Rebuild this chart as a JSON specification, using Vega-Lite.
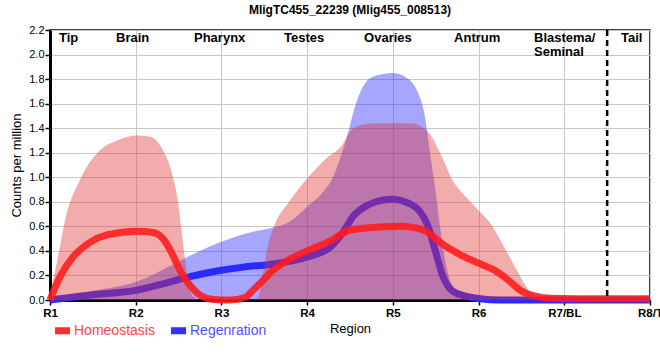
{
  "$schema": "https://vega.github.io/schema/vega-lite/v6.json",
  "width": 600,
  "height": 270,
  "autosize": {"type": "none"},
  "padding": {"left": 50, "top": 30, "right": 10, "bottom": 60},
  "background": "white",
  "title": {"text": "MligTC455_22239 (Mlig455_008513)", "font": "Liberation Sans", "fontSize": 12, "fontWeight": "bold", "color": "black", "offset": 7, "anchor": "middle"},
  "config": {"view": {"stroke": "black", "strokeWidth": 1.5}, "font": "Liberation Sans",
    "axisY": {"values": [0, 0.2, 0.4, 0.6, 0.8, 1.0, 1.2, 1.4, 1.6, 1.8, 2.0, 2.2], "format": ".1f",
        "titleFont": "Liberation Sans", "titleFontSize": 13, "titleFontWeight": "normal", "titleColor": "black", "titlePadding": 5,
        "labelFont": "Liberation Sans", "labelFontSize": 11, "labelColor": "black", "labelPadding": 1, "labelFlush": false, "labelOverlap": false,
        "domainColor": "black", "domainWidth": 3, "tickColor": "black", "tickSize": 5, "tickWidth": 1.5,
        "grid": true, "gridColor": "#c8c8c8", "gridWidth": 1}},
  "datasets": {
    "curves": [
      {"s": "Regenration", "k": "range", "x": 1.0, "v": 0},
      {"s": "Regenration", "k": "range", "x": 1.467, "v": 0.07},
      {"s": "Regenration", "k": "range", "x": 2.015, "v": 0.15},
      {"s": "Regenration", "k": "range", "x": 2.435, "v": 0.29},
      {"s": "Regenration", "k": "range", "x": 2.715, "v": 0.39},
      {"s": "Regenration", "k": "range", "x": 2.983, "v": 0.47},
      {"s": "Regenration", "k": "range", "x": 3.333, "v": 0.55},
      {"s": "Regenration", "k": "range", "x": 3.602, "v": 0.59},
      {"s": "Regenration", "k": "range", "x": 3.8, "v": 0.64},
      {"s": "Regenration", "k": "range", "x": 4.0, "v": 0.76},
      {"s": "Regenration", "k": "range", "x": 4.185, "v": 0.88},
      {"s": "Regenration", "k": "range", "x": 4.302, "v": 1.0},
      {"s": "Regenration", "k": "range", "x": 4.407, "v": 1.2},
      {"s": "Regenration", "k": "range", "x": 4.477, "v": 1.36},
      {"s": "Regenration", "k": "range", "x": 4.535, "v": 1.52},
      {"s": "Regenration", "k": "range", "x": 4.652, "v": 1.74},
      {"s": "Regenration", "k": "range", "x": 4.768, "v": 1.82},
      {"s": "Regenration", "k": "range", "x": 5.0, "v": 1.85},
      {"s": "Regenration", "k": "range", "x": 5.14, "v": 1.82},
      {"s": "Regenration", "k": "range", "x": 5.28, "v": 1.71},
      {"s": "Regenration", "k": "range", "x": 5.373, "v": 1.5},
      {"s": "Regenration", "k": "range", "x": 5.433, "v": 1.2},
      {"s": "Regenration", "k": "range", "x": 5.492, "v": 0.92},
      {"s": "Regenration", "k": "range", "x": 5.55, "v": 0.6},
      {"s": "Regenration", "k": "range", "x": 5.608, "v": 0.33},
      {"s": "Regenration", "k": "range", "x": 5.702, "v": 0.11},
      {"s": "Regenration", "k": "range", "x": 5.865, "v": 0.03},
      {"s": "Regenration", "k": "range", "x": 6.017, "v": 0.01},
      {"s": "Regenration", "k": "range", "x": 6.25, "v": 0.0},
      {"s": "Regenration", "k": "range", "x": 8.0, "v": 0.0},

      {"s": "Regenration", "k": "mean", "x": 1.0, "v": 0.0},
      {"s": "Regenration", "k": "mean", "x": 1.467, "v": 0.04},
      {"s": "Regenration", "k": "mean", "x": 2.015, "v": 0.08},
      {"s": "Regenration", "k": "mean", "x": 2.365, "v": 0.14},
      {"s": "Regenration", "k": "mean", "x": 2.633, "v": 0.19},
      {"s": "Regenration", "k": "mean", "x": 2.983, "v": 0.24},
      {"s": "Regenration", "k": "mean", "x": 3.275, "v": 0.27},
      {"s": "Regenration", "k": "mean", "x": 3.567, "v": 0.29},
      {"s": "Regenration", "k": "mean", "x": 4.0, "v": 0.35},
      {"s": "Regenration", "k": "mean", "x": 4.267, "v": 0.43},
      {"s": "Regenration", "k": "mean", "x": 4.418, "v": 0.55},
      {"s": "Regenration", "k": "mean", "x": 4.535, "v": 0.68},
      {"s": "Regenration", "k": "mean", "x": 4.698, "v": 0.77},
      {"s": "Regenration", "k": "mean", "x": 4.85, "v": 0.81},
      {"s": "Regenration", "k": "mean", "x": 5.0, "v": 0.82},
      {"s": "Regenration", "k": "mean", "x": 5.14, "v": 0.8},
      {"s": "Regenration", "k": "mean", "x": 5.317, "v": 0.72},
      {"s": "Regenration", "k": "mean", "x": 5.41, "v": 0.6},
      {"s": "Regenration", "k": "mean", "x": 5.492, "v": 0.41},
      {"s": "Regenration", "k": "mean", "x": 5.585, "v": 0.19},
      {"s": "Regenration", "k": "mean", "x": 5.702, "v": 0.07},
      {"s": "Regenration", "k": "mean", "x": 5.865, "v": 0.03},
      {"s": "Regenration", "k": "mean", "x": 6.017, "v": 0.01},
      {"s": "Regenration", "k": "mean", "x": 6.25, "v": 0.0},
      {"s": "Regenration", "k": "mean", "x": 8.0, "v": 0.0},

      {"s": "Homeostasis", "k": "range", "x": 1.0, "v": 0},
      {"s": "Homeostasis", "k": "range", "x": 1.035, "v": 0.15},
      {"s": "Homeostasis", "k": "range", "x": 1.093, "v": 0.35},
      {"s": "Homeostasis", "k": "range", "x": 1.175, "v": 0.65},
      {"s": "Homeostasis", "k": "range", "x": 1.35, "v": 0.98},
      {"s": "Homeostasis", "k": "range", "x": 1.583, "v": 1.22},
      {"s": "Homeostasis", "k": "range", "x": 1.782, "v": 1.3},
      {"s": "Homeostasis", "k": "range", "x": 2.015, "v": 1.34},
      {"s": "Homeostasis", "k": "range", "x": 2.167, "v": 1.33},
      {"s": "Homeostasis", "k": "range", "x": 2.318, "v": 1.22},
      {"s": "Homeostasis", "k": "range", "x": 2.435, "v": 1.0},
      {"s": "Homeostasis", "k": "range", "x": 2.493, "v": 0.8},
      {"s": "Homeostasis", "k": "range", "x": 2.528, "v": 0.6},
      {"s": "Homeostasis", "k": "range", "x": 2.563, "v": 0.4},
      {"s": "Homeostasis", "k": "range", "x": 2.61, "v": 0.16},
      {"s": "Homeostasis", "k": "range", "x": 2.668, "v": 0.03},
      {"s": "Homeostasis", "k": "range", "x": 2.75, "v": 0.0},
      {"s": "Homeostasis", "k": "range", "x": 3.333, "v": 0.0},
      {"s": "Homeostasis", "k": "range", "x": 3.427, "v": 0.02},
      {"s": "Homeostasis", "k": "range", "x": 3.485, "v": 0.22},
      {"s": "Homeostasis", "k": "range", "x": 3.543, "v": 0.45},
      {"s": "Homeostasis", "k": "range", "x": 3.602, "v": 0.58},
      {"s": "Homeostasis", "k": "range", "x": 3.8, "v": 0.81},
      {"s": "Homeostasis", "k": "range", "x": 4.0, "v": 0.99},
      {"s": "Homeostasis", "k": "range", "x": 4.232, "v": 1.16},
      {"s": "Homeostasis", "k": "range", "x": 4.407, "v": 1.26},
      {"s": "Homeostasis", "k": "range", "x": 4.5, "v": 1.37},
      {"s": "Homeostasis", "k": "range", "x": 4.652, "v": 1.43},
      {"s": "Homeostasis", "k": "range", "x": 4.85, "v": 1.44},
      {"s": "Homeostasis", "k": "range", "x": 5.2, "v": 1.44},
      {"s": "Homeostasis", "k": "range", "x": 5.317, "v": 1.42},
      {"s": "Homeostasis", "k": "range", "x": 5.433, "v": 1.35},
      {"s": "Homeostasis", "k": "range", "x": 5.55, "v": 1.2},
      {"s": "Homeostasis", "k": "range", "x": 5.702, "v": 0.97},
      {"s": "Homeostasis", "k": "range", "x": 5.865, "v": 0.83},
      {"s": "Homeostasis", "k": "range", "x": 6.0, "v": 0.73},
      {"s": "Homeostasis", "k": "range", "x": 6.133, "v": 0.63},
      {"s": "Homeostasis", "k": "range", "x": 6.285, "v": 0.45},
      {"s": "Homeostasis", "k": "range", "x": 6.448, "v": 0.24},
      {"s": "Homeostasis", "k": "range", "x": 6.565, "v": 0.1},
      {"s": "Homeostasis", "k": "range", "x": 6.682, "v": 0.03},
      {"s": "Homeostasis", "k": "range", "x": 6.833, "v": 0.015},
      {"s": "Homeostasis", "k": "range", "x": 8.0, "v": 0.01},

      {"s": "Homeostasis", "k": "mean", "x": 1.0, "v": 0.0},
      {"s": "Homeostasis", "k": "mean", "x": 1.117, "v": 0.19},
      {"s": "Homeostasis", "k": "mean", "x": 1.268, "v": 0.35},
      {"s": "Homeostasis", "k": "mean", "x": 1.467, "v": 0.47},
      {"s": "Homeostasis", "k": "mean", "x": 1.665, "v": 0.53},
      {"s": "Homeostasis", "k": "mean", "x": 2.015, "v": 0.56},
      {"s": "Homeostasis", "k": "mean", "x": 2.202, "v": 0.55},
      {"s": "Homeostasis", "k": "mean", "x": 2.318, "v": 0.5},
      {"s": "Homeostasis", "k": "mean", "x": 2.423, "v": 0.38},
      {"s": "Homeostasis", "k": "mean", "x": 2.517, "v": 0.24},
      {"s": "Homeostasis", "k": "mean", "x": 2.633, "v": 0.12},
      {"s": "Homeostasis", "k": "mean", "x": 2.75, "v": 0.04},
      {"s": "Homeostasis", "k": "mean", "x": 2.902, "v": 0.005},
      {"s": "Homeostasis", "k": "mean", "x": 3.1, "v": 0.0},
      {"s": "Homeostasis", "k": "mean", "x": 3.275, "v": 0.02},
      {"s": "Homeostasis", "k": "mean", "x": 3.368, "v": 0.08},
      {"s": "Homeostasis", "k": "mean", "x": 3.485, "v": 0.16},
      {"s": "Homeostasis", "k": "mean", "x": 3.567, "v": 0.22},
      {"s": "Homeostasis", "k": "mean", "x": 3.765, "v": 0.32},
      {"s": "Homeostasis", "k": "mean", "x": 4.0, "v": 0.4},
      {"s": "Homeostasis", "k": "mean", "x": 4.267, "v": 0.48},
      {"s": "Homeostasis", "k": "mean", "x": 4.5, "v": 0.57},
      {"s": "Homeostasis", "k": "mean", "x": 4.85, "v": 0.595},
      {"s": "Homeostasis", "k": "mean", "x": 5.083, "v": 0.6},
      {"s": "Homeostasis", "k": "mean", "x": 5.317, "v": 0.58},
      {"s": "Homeostasis", "k": "mean", "x": 5.433, "v": 0.54},
      {"s": "Homeostasis", "k": "mean", "x": 5.55, "v": 0.47},
      {"s": "Homeostasis", "k": "mean", "x": 5.783, "v": 0.37},
      {"s": "Homeostasis", "k": "mean", "x": 6.0, "v": 0.3},
      {"s": "Homeostasis", "k": "mean", "x": 6.215, "v": 0.23},
      {"s": "Homeostasis", "k": "mean", "x": 6.367, "v": 0.15},
      {"s": "Homeostasis", "k": "mean", "x": 6.483, "v": 0.08},
      {"s": "Homeostasis", "k": "mean", "x": 6.635, "v": 0.035},
      {"s": "Homeostasis", "k": "mean", "x": 6.833, "v": 0.015},
      {"s": "Homeostasis", "k": "mean", "x": 7.417, "v": 0.01},
      {"s": "Homeostasis", "k": "mean", "x": 8.0, "v": 0.01}
    ],
    "regions": [
      {"label": "Tip", "x": 1.105},
      {"label": "Brain", "x": 1.77},
      {"label": "Pharynx", "x": 2.68},
      {"label": "Testes", "x": 3.73},
      {"label": "Ovaries", "x": 4.664},
      {"label": "Antrum", "x": 5.714},
      {"label": "Blastema/\nSeminal", "x": 6.647},
      {"label": "Tail", "x": 7.662}
    ],
    "divider": [{"x": 7.5}]
  },
  "encoding": {
    "x": {"field": "x", "type": "quantitative",
      "scale": {"domain": [1, 8], "nice": false, "zero": false},
      "axis": {"values": [1, 2, 3, 4, 5, 6, 7, 8],
        "labelExpr": "['R1','R2','R3','R4','R5','R6','R7/BL','R8/T'][datum.value - 1]",
        "title": "Region", "titleFont": "Liberation Sans", "titleFontSize": 13, "titleFontWeight": "normal", "titleColor": "black", "titlePadding": 4,
        "labelFont": "Liberation Sans", "labelFontSize": 11.5, "labelFontWeight": "bold", "labelColor": "black", "labelPadding": 2, "labelFlush": false, "labelOverlap": false,
        "domainColor": "black", "domainWidth": 3, "tickColor": "black", "tickSize": 5, "tickWidth": 1.5,
        "grid": true, "gridColor": "#c8c8c8", "gridWidth": 1}}
  },
  "layer": [
    {
      "data": {"name": "curves"},
      "transform": [{"filter": "datum.s === 'Regenration' && datum.k === 'range'"}],
      "mark": {"type": "area", "interpolate": "monotone", "color": "#2020ff", "opacity": 0.4},
      "encoding": {
        "y": {"field": "v", "type": "quantitative", "scale": {"domain": [0, 2.2], "nice": false}, "title": "Counts per million"}
      }
    },
    {
      "data": {"name": "curves"},
      "transform": [{"filter": "datum.s === 'Regenration' && datum.k === 'mean'"}],
      "mark": {"type": "line", "interpolate": "monotone", "strokeWidth": 7},
      "encoding": {
        "y": {"field": "v", "type": "quantitative"},
        "color": {"field": "s", "type": "nominal",
          "scale": {"domain": ["Homeostasis", "Regenration"], "range": ["#ff1a1a", "#2a2aff"]},
          "legend": {"orient": "none", "legendX": 5, "legendY": 293, "direction": "horizontal", "title": null,
            "symbolType": "M-1,-0.47H1V0.47H-1Z", "symbolSize": 225, "symbolStrokeWidth": 0, "symbolOpacity": 1,
            "labelFont": "Liberation Sans", "labelFontSize": 14, "labelOffset": 4, "columnPadding": 16,
            "encode": {
              "symbols": {"update": {"fill": {"signal": "datum.value === 'Homeostasis' ? '#ff3030' : '#3030ff'"}, "stroke": {"value": "transparent"}}},
              "labels": {"update": {"fill": {"signal": "datum.value === 'Homeostasis' ? '#ff4545' : '#5050ff'"}}}
            }}}
      }
    },
    {
      "data": {"name": "curves"},
      "transform": [{"filter": "datum.s === 'Homeostasis' && datum.k === 'range'"}],
      "mark": {"type": "area", "interpolate": "monotone", "color": "#e03030", "opacity": 0.4},
      "encoding": {"y": {"field": "v", "type": "quantitative"}}
    },
    {
      "data": {"name": "curves"},
      "transform": [{"filter": "datum.s === 'Homeostasis' && datum.k === 'mean'"}],
      "mark": {"type": "line", "interpolate": "monotone", "strokeWidth": 7, "opacity": 0.88},
      "encoding": {
        "y": {"field": "v", "type": "quantitative"},
        "color": {"field": "s", "type": "nominal"}
      }
    },
    {
      "data": {"name": "divider"},
      "mark": {"type": "rule", "color": "black", "strokeWidth": 2.5, "strokeDash": [6, 4]},
      "encoding": {}
    },
    {
      "data": {"name": "regions"},
      "mark": {"type": "text", "align": "left", "baseline": "top", "dy": 2, "font": "Liberation Sans", "fontSize": 13, "fontWeight": "bold", "color": "black", "lineBreak": "\n", "lineHeight": 14},
      "encoding": {
        "y": {"datum": 2.2, "type": "quantitative"},
        "text": {"field": "label"}
      }
    }
  ]
}
